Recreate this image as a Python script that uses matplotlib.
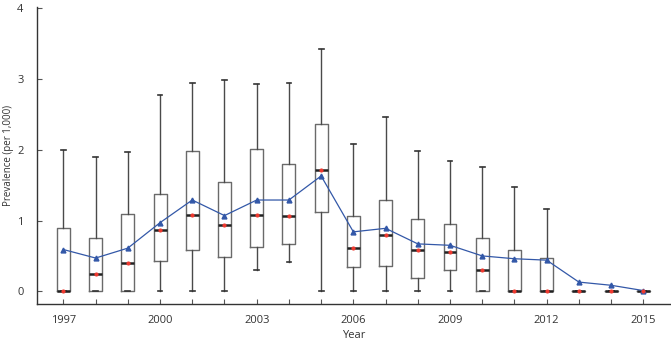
import matplotlib
matplotlib.use("Agg")
import matplotlib.pyplot as plt

years = list(range(1997, 2016))
whis_lo = [0, 0, 0, 0, 0, 0, 0.30, 0.41, 0, 0, 0, 0, 0, 0, 0, 0, 0, 0, 0]
q1 = [0, 0, 0, 0.43, 0.59, 0.48, 0.62, 0.67, 1.12, 0.34, 0.36, 0.19, 0.30, 0, 0, 0, 0, 0, 0]
medians = [0, 0.25, 0.40, 0.87, 1.08, 0.93, 1.08, 1.07, 1.71, 0.61, 0.80, 0.585, 0.55, 0.30, 0, 0, 0, 0, 0]
q3 = [0.89, 0.76, 1.09, 1.37, 1.98, 1.54, 2.01, 1.80, 2.36, 1.06, 1.29, 1.02, 0.95, 0.76, 0.59, 0.47, 0, 0, 0]
whis_hi = [2.00, 1.90, 1.97, 2.77, 2.95, 2.98, 2.93, 2.94, 3.43, 2.08, 2.46, 1.98, 1.84, 1.76, 1.47, 1.16, 0, 0, 0]
means = [0.59, 0.47, 0.61, 0.97, 1.29, 1.07, 1.29, 1.29, 1.63, 0.84, 0.89, 0.67, 0.65, 0.50, 0.46, 0.44, 0.13, 0.085, 0.01]
tick_labels = ["1997", "2000", "2003", "2006", "2009", "2012", "2015"]

plt.rcParams["font.family"] = ["Open Sans", "DejaVu Sans"]

fig = plt.figure(figsize=(6.71, 3.44), dpi=100)
ax = fig.add_axes([0.0556, 0.1154, 0.943, 0.8646])

stats = []
for i in range(len(years)):
    stats.append(dict(med=medians[i], q1=q1[i], q3=q3[i],
                      whislo=whis_lo[i], whishi=whis_hi[i], fliers=[]))

ax.bxp(stats, positions=years, widths=0.4, capwidths=0.15, showfliers=False,
       boxprops=dict(color="#6a6a6a", linewidth=1.0),
       whiskerprops=dict(color="#4a4a4a", linewidth=1.0),
       capprops=dict(color="#333333", linewidth=1.2),
       medianprops=dict(color="#222222", linewidth=1.8))

ax.plot(years, means, color="#3358a8", linewidth=0.9, marker="^",
        markersize=3.5, zorder=4)
ax.scatter(years, medians, s=9, color="#ee3a30", zorder=5, linewidths=0)

ax.set_xlim(1996.19, 2015.83)
ax.set_ylim(-0.184, 4.02)
ax.set_yticks([0, 1, 2, 3, 4])
ax.set_xticks(years)
ax.set_xticklabels([str(y) if str(y) in tick_labels else "" for y in years])
ax.tick_params(direction="in", length=3.5, width=0.8, colors="#555555",
               labelcolor="#333333", labelsize=8)
ax.tick_params(axis="x", pad=8)
ax.tick_params(axis="y", pad=10)

for s in ["top", "right"]:
    ax.spines[s].set_visible(False)
for s in ["left", "bottom"]:
    ax.spines[s].set_color("#333333")
    ax.spines[s].set_linewidth(1.0)

ax.set_ylabel("Prevalence (per 1,000)", fontsize=7, color="#333333")
ax.yaxis.set_label_coords(-0.037, 0.5)
ax.set_xlabel("Year", fontsize=8, color="#333333")
ax.xaxis.set_label_coords(0.5, -0.088)

fig.savefig("out.png", dpi=100)
